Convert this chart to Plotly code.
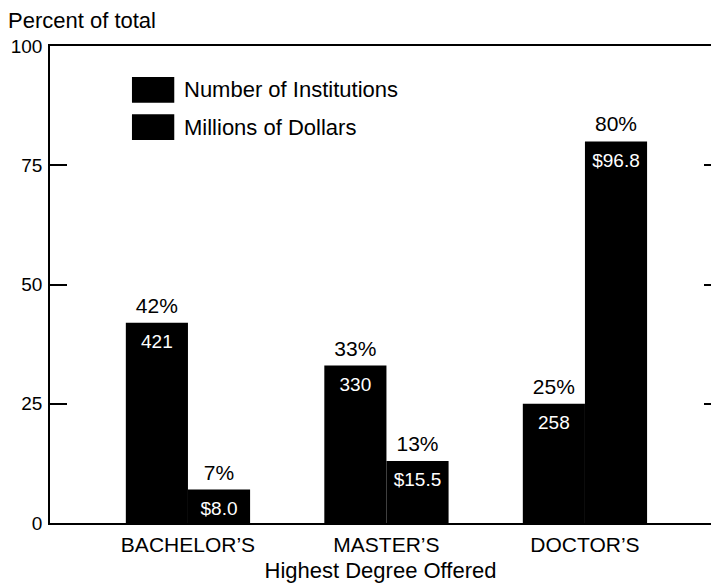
import plotly.graph_objects as go

# Share of institutions and of dollars, by highest degree offered
degrees = ["BACHELOR\u2019S", "MASTER\u2019S", "DOCTOR\u2019S"]
series_names = ["Number of Institutions", "Millions of Dollars"]
inst_pct = [42, 33, 25]
inst_count = ["421", "330", "258"]
dollar_pct = [7, 13, 80]
dollar_millions = ["$8.0", "$15.5", "$96.8"]
y_ticks = [0, 25, 50, 75, 100]

FONT = "Liberation Sans, Arial, Helvetica, sans-serif"
BAR_W = 0.313
idx = list(range(len(degrees)))
x_inst = [i - BAR_W / 2 for i in idx]
x_doll = [i + BAR_W / 2 for i in idx]

fig = go.Figure()

for xs, pct, inner, name in [
    (x_inst, inst_pct, inst_count, series_names[0]),
    (x_doll, dollar_pct, dollar_millions, series_names[1]),
]:
    fig.add_trace(go.Bar(
        x=xs, y=pct, width=BAR_W, name=name,
        marker=dict(color="black", line=dict(width=0)),
        showlegend=False, hoverinfo="skip",
    ))
    # percentage above each bar
    fig.add_trace(go.Scatter(
        x=xs, y=pct, mode="markers+text",
        marker=dict(size=6, opacity=0),
        text=[f"{v}%" for v in pct], textposition="top center",
        textfont=dict(color="black", size=21, family=FONT),
        showlegend=False, hoverinfo="skip",
    ))
    # count / dollar amount just inside the top of each bar
    fig.add_trace(go.Scatter(
        x=xs, y=pct, mode="markers+text",
        marker=dict(size=16, opacity=0),
        text=inner, textposition="bottom center",
        textfont=dict(color="white", size=19, family=FONT),
        showlegend=False, hoverinfo="skip",
    ))

# invisible trace to drive the right-hand tick marks
fig.add_trace(go.Scatter(x=[0], y=[0], yaxis="y2", mode="markers",
                         marker=dict(opacity=0), showlegend=False,
                         hoverinfo="skip"))

# legend swatches and labels
legend_rows = [(0.908, series_names[0]), (0.830, series_names[1])]
for yc, label in legend_rows:
    fig.add_shape(type="rect", xref="paper", yref="paper",
                  x0=0.124, x1=0.188, y0=yc - 0.027, y1=yc + 0.027,
                  fillcolor="black", line=dict(width=0))
    fig.add_annotation(xref="paper", yref="paper", x=0.200, y=yc,
                       text=label, showarrow=False, xanchor="left",
                       yanchor="middle", font=dict(size=22, family=FONT,
                                                   color="black"))

fig.add_annotation(xref="paper", yref="paper", x=-0.066, y=1.0,
                   yshift=11, text="Percent of total", showarrow=False,
                   xanchor="left", yanchor="bottom",
                   font=dict(size=22, family=FONT, color="black"))

fig.update_layout(
    width=711, height=583,
    margin=dict(l=50, r=0, t=46, b=60),
    paper_bgcolor="white", plot_bgcolor="white",
    barmode="overlay",
    font=dict(family=FONT, color="black", size=20),
    xaxis=dict(
        range=[-0.695, 2.635], tickmode="array", tickvals=idx,
        ticktext=degrees, ticks="", showgrid=False, zeroline=False,
        showline=True, mirror=True, linecolor="black", linewidth=1.5,
        tickfont=dict(size=21, family=FONT), ticklabelstandoff=2,
        automargin=False,
        title=dict(text="Highest Degree Offered", standoff=13,
                   font=dict(size=22, family=FONT)),
    ),
    yaxis=dict(
        range=[0, 100], tickvals=y_ticks, ticks="inside", ticklen=17,
        tickwidth=1.5, tickcolor="black", showgrid=False, zeroline=False,
        showline=True, linecolor="black", linewidth=1.5, automargin=False,
        tickfont=dict(size=19, family=FONT), ticklabelstandoff=2,
    ),
    yaxis2=dict(
        range=[0, 100], tickvals=y_ticks, overlaying="y", side="right",
        ticks="inside", ticklen=7, tickwidth=1.5, tickcolor="black",
        showticklabels=False, showgrid=False, zeroline=False,
        showline=False, automargin=False,
    ),
)

fig.write_html("out.html")
